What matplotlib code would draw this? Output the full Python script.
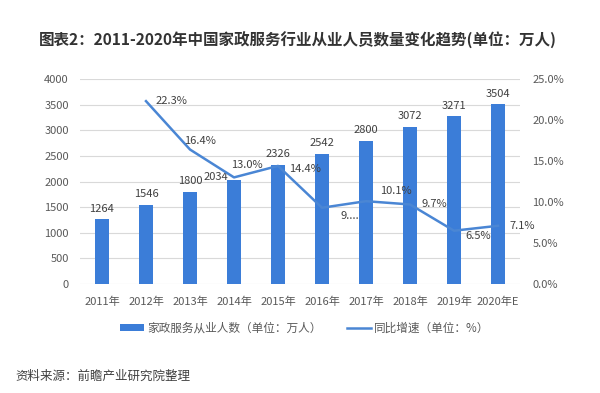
import matplotlib
matplotlib.use("Agg")
import matplotlib.pyplot as plt
from matplotlib.patches import Patch
from matplotlib.lines import Line2D

plt.rcParams['font.family'] = ['Noto Sans CJK SC', 'DejaVu Sans']

years = ["2011年", "2012年", "2013年", "2014年", "2015年", "2016年", "2017年", "2018年", "2019年", "2020年E"]
workers = [1264, 1546, 1800, 2034, 2326, 2542, 2800, 3072, 3271, 3504]
growth = [None, 22.3, 16.4, 13.0, 14.4, 9.3, 10.1, 9.7, 6.5, 7.1]
growth_labels = ["", "22.3%", "16.4%", "13.0%", "14.4%", "9....", "10.1%", "9.7%", "6.5%", "7.1%"]

bar_color = '#3b7dd8'
line_color = '#4a86d4'
text_color = '#404040'
tick_color = '#595959'

fig = plt.figure(figsize=(6, 3.93), dpi=100)
ax = fig.add_axes([80/600, 1-284/393, 440/600, 205/393])
ax2 = ax.twinx()

x = list(range(len(years)))
ax.bar(x, workers, width=0.3, color=bar_color, zorder=2)
ax.set_ylim(0, 4000)
ax.set_yticks(range(0, 4001, 500))
ax.set_xlim(-0.5, len(years)-0.5)
ax.set_xticks(x)
ax.set_xticklabels(years)
ax.grid(axis='y', color='#d9d9d9', linewidth=0.8, zorder=0)
ax.set_axisbelow(True)

gx = [i for i, g in enumerate(growth) if g is not None]
gy = [g for g in growth if g is not None]
ax2.plot(gx, gy, color=line_color, linewidth=1.8, zorder=3)
ax2.set_ylim(0, 25)
ax2.set_yticks(range(0, 26, 5))
ax2.set_yticklabels([f"{v:.1f}%" for v in range(0, 26, 5)])

for a in (ax, ax2):
    for s in a.spines.values():
        s.set_visible(False)
    a.tick_params(length=0, labelsize=8, labelcolor=tick_color)
ax.tick_params(axis='y', pad=8)
ax2.tick_params(axis='y', pad=9)
ax.tick_params(axis='x', pad=9)

# bar labels
for i, v in enumerate(workers):
    if i == 3:
        ax.annotate(str(v), (i, v), xytext=(-13, 2), textcoords='offset points',
                    ha='center', va='center', fontsize=8, color=text_color)
    else:
        ax.annotate(str(v), (i, v), xytext=(0, 4), textcoords='offset points',
                    ha='center', va='bottom', fontsize=8, color=text_color)

# line labels (offsets in points)
offsets = {1: (7, 0, 'left', 'center'),
           2: (-4, 6, 'left', 'center'),
           3: (-2, 9, 'left', 'center'),
           4: (8, -2, 'left', 'center'),
           5: (13, -6, 'left', 'center'),
           6: (10, 7, 'left', 'center'),
           7: (8, 0, 'left', 'center'),
           8: (8, -4, 'left', 'center'),
           9: (8, 0, 'left', 'center')}
for i, lab in enumerate(growth_labels):
    if i in offsets:
        dx, dy, ha, va = offsets[i]
        ax2.annotate(lab, (i, growth[i]), xytext=(dx, dy), textcoords='offset points',
                     ha=ha, va=va, fontsize=8, color=text_color, zorder=4)

fig.text(298/600, 1-40/393, "图表2：2011-2020年中国家政服务行业从业人员数量变化趋势(单位：万人)",
         ha='center', va='center', fontsize=11.2, fontweight='bold', color='#333333')

handles = [Patch(facecolor=bar_color), Line2D([0], [0], color=line_color, linewidth=1.8)]
labels = ["家政服务从业人数（单位：万人）", "同比增速（单位：%）"]
fig.legend(handles, labels, loc='center', bbox_to_anchor=(305/600, 1-328/393), ncol=2,
           frameon=False, fontsize=8.4, labelcolor=tick_color, handlelength=2.0,
           handleheight=0.6, columnspacing=2.2, handletextpad=0.3)

fig.text(15/600, 1-376/393, "资料来源：前瞻产业研究院整理", ha='left', va='center',
         fontsize=9, color='#404040')

fig.savefig("out.png", dpi=100)
